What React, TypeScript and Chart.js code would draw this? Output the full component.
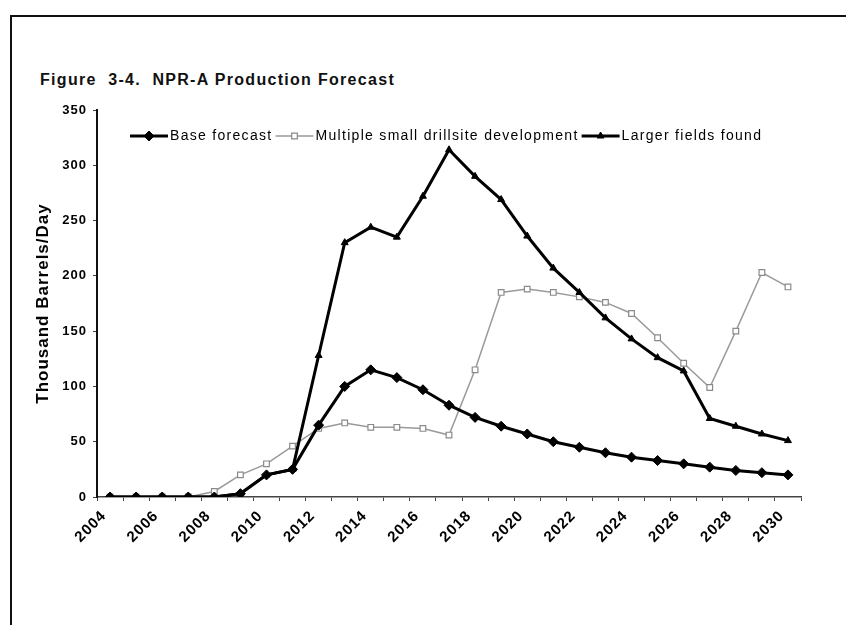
import React, { useEffect, useRef } from "react";
import { Chart, registerables } from "chart.js";
import { drawPoint } from "chart.js/helpers";

Chart.register(...registerables);

const years = [
  "2004", "2005", "2006", "2007", "2008", "2009", "2010", "2011", "2012",
  "2013", "2014", "2015", "2016", "2017", "2018", "2019", "2020", "2021",
  "2022", "2023", "2024", "2025", "2026", "2027", "2028", "2029", "2030",
];

const baseForecast = [
  0, 0, 0, 0, 0, 3, 20, 25, 65, 100, 115, 108, 97, 83, 72, 64, 57, 50, 45, 40,
  36, 33, 30, 27, 24, 22, 20,
];

const multipleSmallDrillsite = [
  0, 0, 0, 0, 5, 20, 30, 46, 62, 67, 63, 63, 62, 56, 115, 185, 188, 185, 181,
  176, 166, 144, 121, 99, 150, 203, 190,
];

const largerFieldsFound = [
  0, 0, 0, 0, 0, 3, 20, 25, 128, 230, 244, 235, 272, 314, 290, 269, 236, 207,
  185, 162, 143, 126, 114, 71, 64, 57, 51,
];

const seriesNames = [
  "Base forecast",
  "Multiple small drillsite development",
  "Larger fields found",
];

const yMin = 0;
const yMax = 350;
const yStep = 50;

const chartTitle = "Figure  3-4.  NPR-A Production Forecast";
const yAxisTitle = "Thousand Barrels/Day";

const FONT = "'Liberation Sans', Arial, sans-serif";

const spacingPlugin = {
  id: "textSpacing",
  beforeDraw(chart: any) {
    (chart.ctx as any).letterSpacing = "1px";
  },
  afterDraw(chart: any) {
    (chart.ctx as any).letterSpacing = "0px";
  },
};

const legendPlugin = {
  id: "inlineLegend",
  afterDraw(chart: any) {
    const ctx = chart.ctx as CanvasRenderingContext2D;
    const y = 136;
    let x = 130;
    ctx.save();
    (ctx as any).letterSpacing = "1.3px";
    ctx.font = `14px ${FONT}`;
    ctx.textBaseline = "middle";
    ctx.textAlign = "left";
    chart.data.datasets.forEach((ds: any) => {
      const sym = 38;
      ctx.strokeStyle = ds.borderColor;
      ctx.lineWidth = ds.borderWidth;
      ctx.beginPath();
      ctx.moveTo(x, y);
      ctx.lineTo(x + sym, y);
      ctx.stroke();
      ctx.fillStyle = ds.pointBackgroundColor;
      ctx.strokeStyle = ds.pointBorderColor;
      ctx.lineWidth = ds.pointBorderWidth;
      drawPoint(
        ctx,
        {
          pointStyle: ds.pointStyle,
          radius: ds.pointRadius,
          borderWidth: ds.pointBorderWidth,
          rotation: 0,
        } as any,
        x + sym / 2,
        y
      );
      ctx.fillStyle = "#000";
      ctx.fillText(ds.label, x + sym + 2, y);
      x += sym + 2 + ctx.measureText(ds.label).width + 3;
    });
    ctx.restore();
  },
};

export default function App() {
  const canvasRef = useRef<HTMLCanvasElement | null>(null);

  useEffect(() => {
    if (!canvasRef.current) return;
    const chart = new Chart(canvasRef.current, {
      type: "line",
      data: {
        labels: years,
        datasets: [
          {
            label: seriesNames[0],
            data: baseForecast,
            borderColor: "#000",
            borderWidth: 3,
            pointStyle: "rectRot",
            pointRadius: 5,
            pointBackgroundColor: "#000",
            pointBorderColor: "#000",
            pointBorderWidth: 1,
            tension: 0,
            order: 0,
          },
          {
            label: seriesNames[1],
            data: multipleSmallDrillsite,
            borderColor: "#9a9a9a",
            borderWidth: 1.5,
            pointStyle: "rect",
            pointRadius: 4,
            pointBackgroundColor: "#fff",
            pointBorderColor: "#8a8a8a",
            pointBorderWidth: 1.2,
            tension: 0,
            order: 2,
          },
          {
            label: seriesNames[2],
            data: largerFieldsFound,
            borderColor: "#000",
            borderWidth: 3,
            pointStyle: "triangle",
            pointRadius: 4,
            pointBackgroundColor: "#000",
            pointBorderColor: "#000",
            pointBorderWidth: 1,
            tension: 0,
            order: 1,
          },
        ],
      },
      options: {
        responsive: false,
        animation: false,
        layout: { padding: { left: 30, right: 45, top: 110, bottom: 0 } },
        plugins: {
          legend: { display: false },
          title: { display: false },
          tooltip: { enabled: false },
        },
        scales: {
          x: {
            offset: true,
            grid: {
              display: true,
              drawOnChartArea: false,
              drawTicks: true,
              tickLength: 4,
              color: "#444",
              offset: true,
            },
            border: { display: true, color: "#444", width: 1.5 },
            ticks: {
              autoSkip: false,
              minRotation: 45,
              maxRotation: 45,
              padding: 6,
              labelOffset: -6,
              color: "#000",
              font: { family: FONT, size: 15, weight: "bold" },
              callback: (_v: any, i: number) => (i % 2 === 0 ? years[i] : ""),
            },
            afterFit: (s: any) => {
              s.height = 128;
            },
          },
          y: {
            min: yMin,
            max: yMax,
            grid: {
              display: true,
              drawOnChartArea: false,
              drawTicks: true,
              tickLength: 4,
              color: "#444",
            },
            border: { display: true, color: "#111", width: 2 },
            ticks: {
              stepSize: yStep,
              padding: 6,
              color: "#000",
              font: { family: FONT, size: 13, weight: "bold" },
            },
            title: {
              display: true,
              text: yAxisTitle,
              color: "#000",
              padding: { top: 3, bottom: 0 },
              font: { family: FONT, size: 17, weight: "bold" },
            },
            afterFit: (s: any) => {
              s.width = 67;
            },
          },
        },
      },
      plugins: [spacingPlugin, legendPlugin],
    });
    return () => chart.destroy();
  }, []);

  return (
    <div
      style={{
        position: "absolute",
        left: 0,
        top: 0,
        width: 846,
        height: 625,
        background: "#fff",
        overflow: "hidden",
        fontFamily: FONT,
      }}
    >
      <div
        style={{
          position: "absolute",
          left: 10,
          top: 15,
          width: 840,
          height: 620,
          borderLeft: "2px solid #111",
          borderTop: "2px solid #111",
        }}
      />
      <div
        style={{
          position: "absolute",
          left: 40,
          top: 71,
          fontSize: 16,
          fontWeight: "bold",
          letterSpacing: 1.3,
          whiteSpace: "pre",
          color: "#111",
        }}
      >
        {chartTitle}
      </div>
      <canvas
        ref={canvasRef}
        width={846}
        height={625}
        style={{ position: "absolute", left: 0, top: 0 }}
      />
    </div>
  );
}
